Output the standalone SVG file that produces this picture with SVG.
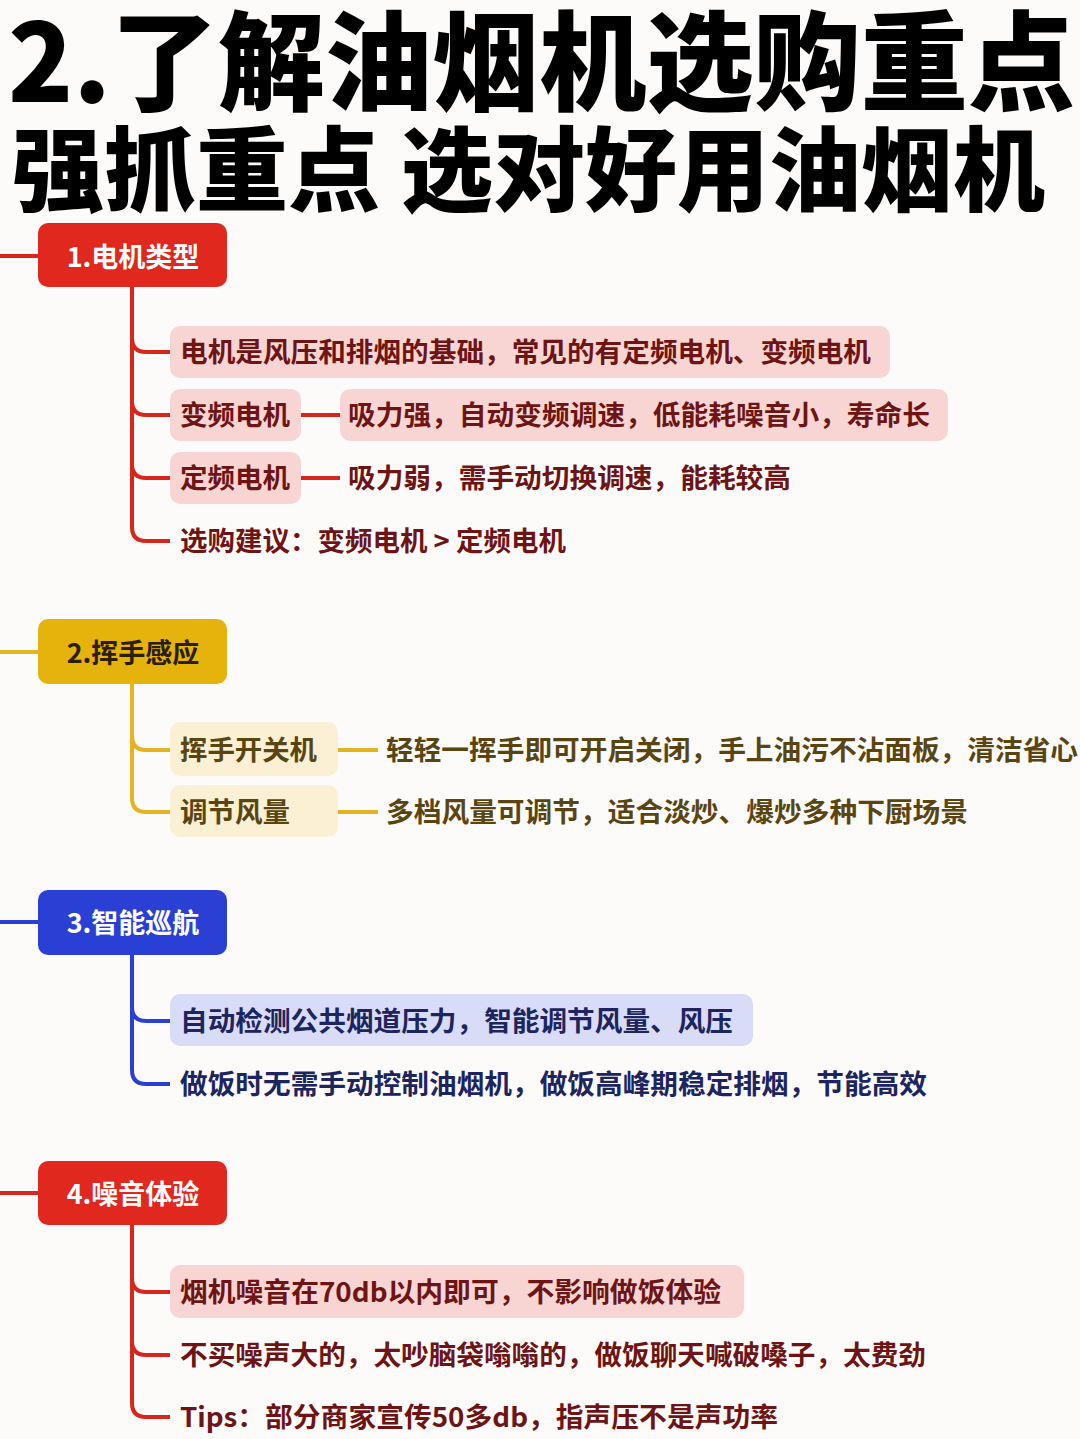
<svg xmlns="http://www.w3.org/2000/svg" width="1080" height="1439" viewBox="0 0 1080 1439">
<style>
text{font-family:"Noto Sans CJK SC","Noto Sans",sans-serif;font-weight:700;}
.title{font-weight:900;fill:#000;}
.hd{font-size:27px;text-anchor:middle;}
.t{font-size:27px;}
.r{fill:#6e1414;}
.y{fill:#5a4510;}
.b{fill:#1c2560;}
.lr{stroke:#d9261c;stroke-width:4;fill:none;}
.ly{stroke:#e6b422;stroke-width:4;fill:none;}
.lb{stroke:#2a40d4;stroke-width:4;fill:none;}
.pink{fill:#f8d5d2;}
.cream{fill:#fbf0d3;}
.lav{fill:#d9dcf6;}
</style>
<rect x="0" y="0" width="1080" height="1439" fill="#fcfbfa"/>
<text class="title" x="8" y="102" font-size="108" textLength="1067" lengthAdjust="spacingAndGlyphs">2.了解油烟机选购重点</text>
<text class="title" x="12" y="204" font-size="92" textLength="1033" lengthAdjust="spacingAndGlyphs">强抓重点 选对好用油烟机</text>

<g id="connectors">
  <!-- section 1 -->
  <path class="lr" d="M0 256 H38"/>
  <path class="lr" d="M132 287 V527"/>
  <path class="lr" d="M132 338 Q132 352 146 352 H170"/>
  <path class="lr" d="M132 401 Q132 415 146 415 H170"/>
  <path class="lr" d="M132 464 Q132 478 146 478 H170"/>
  <path class="lr" d="M132 527 Q132 541 146 541 H170"/>
  <path class="lr" d="M301 415 H340"/>
  <path class="lr" d="M301 478 H340"/>
  <!-- section 2 -->
  <path class="ly" d="M0 652 H38"/>
  <path class="ly" d="M132 684 V798"/>
  <path class="ly" d="M132 736 Q132 750 146 750 H170"/>
  <path class="ly" d="M132 798 Q132 812 146 812 H170"/>
  <path class="ly" d="M338 750 H378"/>
  <path class="ly" d="M338 812 H378"/>
  <!-- section 3 -->
  <path class="lb" d="M0 922 H38"/>
  <path class="lb" d="M132 955 V1070"/>
  <path class="lb" d="M132 1007 Q132 1021 146 1021 H170"/>
  <path class="lb" d="M132 1070 Q132 1084 146 1084 H170"/>
  <!-- section 4 -->
  <path class="lr" d="M0 1193 H38"/>
  <path class="lr" d="M132 1225 V1403"/>
  <path class="lr" d="M132 1278 Q132 1292 146 1292 H170"/>
  <path class="lr" d="M132 1341 Q132 1355 146 1355 H170"/>
  <path class="lr" d="M132 1403 Q132 1417 146 1417 H170"/>
</g>

<g id="n1">
  <rect x="38" y="223" width="189" height="64" rx="10" fill="#e1281e"/>
  <text class="hd" x="133" y="267" fill="#fff">1.电机类型</text>
</g>
<g id="n1a">
  <rect class="pink" x="170" y="326" width="720" height="52" rx="10"/>
  <text class="t r" x="180" y="362" textLength="691" lengthAdjust="spacingAndGlyphs">电机是风压和排烟的基础，常见的有定频电机、变频电机</text>
</g>
<g id="n1b">
  <rect class="pink" x="170" y="389" width="131" height="52" rx="10"/>
  <text class="t r" x="180" y="425" textLength="110" lengthAdjust="spacingAndGlyphs">变频电机</text>
</g>
<g id="n1b1">
  <rect class="pink" x="340" y="389" width="608" height="52" rx="10"/>
  <text class="t r" x="348" y="425" textLength="582" lengthAdjust="spacingAndGlyphs">吸力强，自动变频调速，低能耗噪音小，寿命长</text>
</g>
<g id="n1c">
  <rect class="pink" x="170" y="452" width="131" height="52" rx="10"/>
  <text class="t r" x="180" y="488" textLength="110" lengthAdjust="spacingAndGlyphs">定频电机</text>
</g>
<g id="n1c1">
  <text class="t r" x="348" y="488" textLength="443" lengthAdjust="spacingAndGlyphs">吸力弱，需手动切换调速，能耗较高</text>
</g>
<g id="n1d">
  <text class="t r" x="180" y="551" textLength="386" lengthAdjust="spacingAndGlyphs">选购建议：变频电机 &gt; 定频电机</text>
</g>

<g id="n2">
  <rect x="38" y="619" width="189" height="65" rx="10" fill="#e6b20c"/>
  <text class="hd" x="133" y="663" fill="#2a2000">2.挥手感应</text>
</g>
<g id="n2a">
  <rect class="cream" x="170" y="722" width="168" height="54" rx="10"/>
  <text class="t y" x="180" y="760" textLength="137" lengthAdjust="spacingAndGlyphs">挥手开关机</text>
</g>
<g id="n2a1">
  <text class="t y" x="386" y="760" textLength="692" lengthAdjust="spacingAndGlyphs">轻轻一挥手即可开启关闭，手上油污不沾面板，清洁省心</text>
</g>
<g id="n2b">
  <rect class="cream" x="170" y="785" width="168" height="52" rx="10"/>
  <text class="t y" x="180" y="822" textLength="110" lengthAdjust="spacingAndGlyphs">调节风量</text>
</g>
<g id="n2b1">
  <text class="t y" x="386" y="822" textLength="582" lengthAdjust="spacingAndGlyphs">多档风量可调节，适合淡炒、爆炒多种下厨场景</text>
</g>

<g id="n3">
  <rect x="38" y="890" width="189" height="65" rx="10" fill="#2a40d4"/>
  <text class="hd" x="133" y="933" fill="#fff">3.智能巡航</text>
</g>
<g id="n3a">
  <rect class="lav" x="170" y="994" width="583" height="52" rx="10"/>
  <text class="t b" x="180" y="1031" textLength="553" lengthAdjust="spacingAndGlyphs">自动检测公共烟道压力，智能调节风量、风压</text>
</g>
<g id="n3b">
  <text class="t b" x="180" y="1094" textLength="747" lengthAdjust="spacingAndGlyphs">做饭时无需手动控制油烟机，做饭高峰期稳定排烟，节能高效</text>
</g>

<g id="n4">
  <rect x="38" y="1161" width="189" height="64" rx="10" fill="#e1281e"/>
  <text class="hd" x="133" y="1204" fill="#fff">4.噪音体验</text>
</g>
<g id="n4a">
  <rect class="pink" x="170" y="1265" width="574" height="53" rx="10"/>
  <text class="t r" x="180" y="1302" textLength="541" lengthAdjust="spacingAndGlyphs">烟机噪音在70db以内即可，不影响做饭体验</text>
</g>
<g id="n4b">
  <text class="t r" x="180" y="1365" textLength="746" lengthAdjust="spacingAndGlyphs">不买噪声大的，太吵脑袋嗡嗡的，做饭聊天喊破嗓子，太费劲</text>
</g>
<g id="n4c">
  <text class="t r" x="180" y="1427" textLength="598" lengthAdjust="spacingAndGlyphs">Tips：部分商家宣传50多db，指声压不是声功率</text>
</g>
</svg>
